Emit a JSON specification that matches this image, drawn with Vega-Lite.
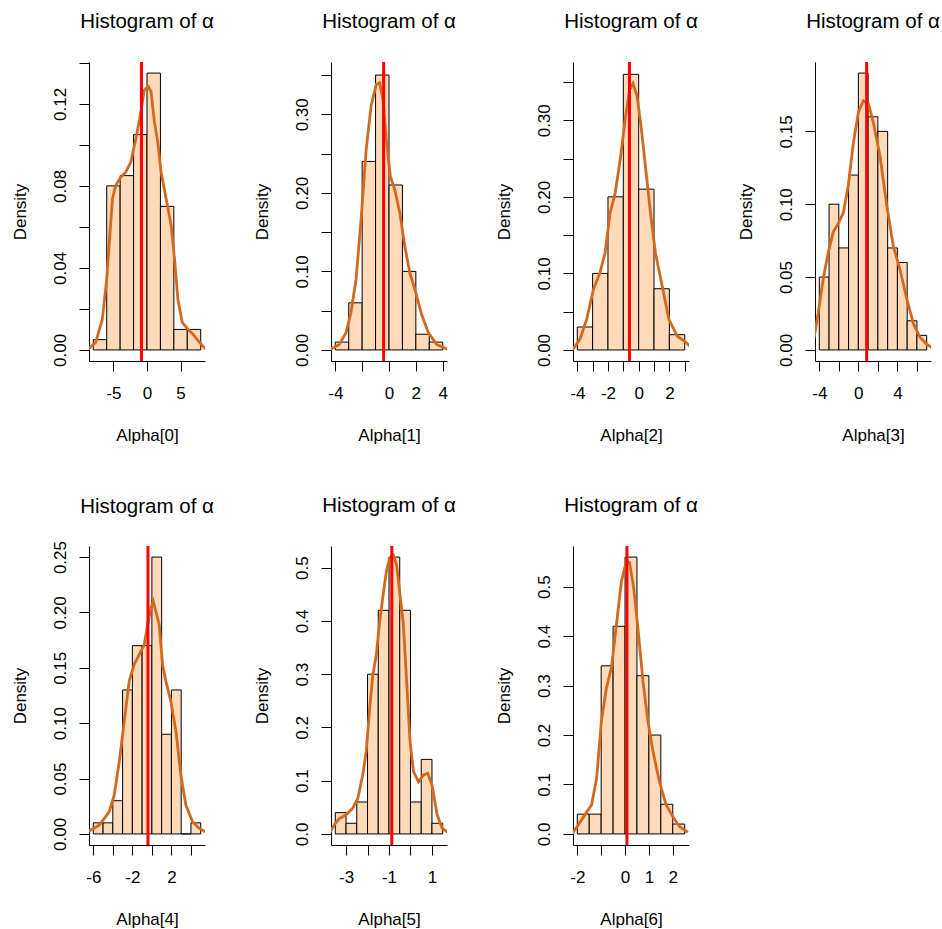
{
  "$schema": "https://vega.github.io/schema/vega-lite/v6.json",
  "background": "white",
  "padding": {"left": 11, "top": 12, "right": 0, "bottom": 0},
  "config": {
    "font": "Liberation Sans",
    "view": {"stroke": null},
    "axis": {
      "grid": false, "domainColor": "#000", "tickColor": "#000", "labelColor": "#000", "titleColor": "#000",
      "labelFont": "Liberation Sans", "titleFont": "Liberation Sans",
      "labelFontSize": 17, "titleFontSize": 17, "titleFontWeight": "normal",
      "tickSize": 10, "domainWidth": 1, "tickWidth": 1, "labelOverlap": false, "labelFlush": false, "tickCount": 50
    },
    "axisX": {"labelPadding": 14.5, "labelBaseline": "top", "titleY": 66.5, "titleBaseline": "top"},
    "axisY": {"labelAngle": 270, "labelAlign": "center", "labelBaseline": "alphabetic", "labelPadding": 13.4, "titleX": -63.2, "titleAngle": 270, "titleBaseline": "alphabetic", "titleAlign": "center"},
    "title": {"font": "Liberation Sans", "fontSize": 20.5, "fontWeight": "normal", "color": "#000", "anchor": "middle", "frame": "group", "baseline": "alphabetic", "offset": 28}
  },
  "datasets": {
    "bars": [
      {"panel": 0, "lo": -8, "hi": -6, "density": 0.005},
      {"panel": 0, "lo": -6, "hi": -4, "density": 0.08},
      {"panel": 0, "lo": -4, "hi": -2, "density": 0.085},
      {"panel": 0, "lo": -2, "hi": 0, "density": 0.105},
      {"panel": 0, "lo": 0, "hi": 2, "density": 0.135},
      {"panel": 0, "lo": 2, "hi": 4, "density": 0.07},
      {"panel": 0, "lo": 4, "hi": 6, "density": 0.01},
      {"panel": 0, "lo": 6, "hi": 8, "density": 0.01},
      {"panel": 1, "lo": -4, "hi": -3, "density": 0.01},
      {"panel": 1, "lo": -3, "hi": -2, "density": 0.06},
      {"panel": 1, "lo": -2, "hi": -1, "density": 0.24},
      {"panel": 1, "lo": -1, "hi": 0, "density": 0.35},
      {"panel": 1, "lo": 0, "hi": 1, "density": 0.21},
      {"panel": 1, "lo": 1, "hi": 2, "density": 0.10},
      {"panel": 1, "lo": 2, "hi": 3, "density": 0.02},
      {"panel": 1, "lo": 3, "hi": 4, "density": 0.01},
      {"panel": 2, "lo": -4, "hi": -3, "density": 0.03},
      {"panel": 2, "lo": -3, "hi": -2, "density": 0.10},
      {"panel": 2, "lo": -2, "hi": -1, "density": 0.20},
      {"panel": 2, "lo": -1, "hi": 0, "density": 0.36},
      {"panel": 2, "lo": 0, "hi": 1, "density": 0.21},
      {"panel": 2, "lo": 1, "hi": 2, "density": 0.08},
      {"panel": 2, "lo": 2, "hi": 3, "density": 0.02},
      {"panel": 3, "lo": -4, "hi": -3, "density": 0.05},
      {"panel": 3, "lo": -3, "hi": -2, "density": 0.10},
      {"panel": 3, "lo": -2, "hi": -1, "density": 0.07},
      {"panel": 3, "lo": -1, "hi": 0, "density": 0.12},
      {"panel": 3, "lo": 0, "hi": 1, "density": 0.19},
      {"panel": 3, "lo": 1, "hi": 2, "density": 0.16},
      {"panel": 3, "lo": 2, "hi": 3, "density": 0.15},
      {"panel": 3, "lo": 3, "hi": 4, "density": 0.07},
      {"panel": 3, "lo": 4, "hi": 5, "density": 0.06},
      {"panel": 3, "lo": 5, "hi": 6, "density": 0.02},
      {"panel": 3, "lo": 6, "hi": 7, "density": 0.01},
      {"panel": 4, "lo": -6, "hi": -5, "density": 0.01},
      {"panel": 4, "lo": -5, "hi": -4, "density": 0.01},
      {"panel": 4, "lo": -4, "hi": -3, "density": 0.03},
      {"panel": 4, "lo": -3, "hi": -2, "density": 0.13},
      {"panel": 4, "lo": -2, "hi": -1, "density": 0.17},
      {"panel": 4, "lo": -1, "hi": 0, "density": 0.17},
      {"panel": 4, "lo": 0, "hi": 1, "density": 0.25},
      {"panel": 4, "lo": 1, "hi": 2, "density": 0.09},
      {"panel": 4, "lo": 2, "hi": 3, "density": 0.13},
      {"panel": 4, "lo": 3, "hi": 4, "density": 0},
      {"panel": 4, "lo": 4, "hi": 5, "density": 0.01},
      {"panel": 5, "lo": -3.5, "hi": -3, "density": 0.04},
      {"panel": 5, "lo": -3, "hi": -2.5, "density": 0.02},
      {"panel": 5, "lo": -2.5, "hi": -2, "density": 0.06},
      {"panel": 5, "lo": -2, "hi": -1.5, "density": 0.30},
      {"panel": 5, "lo": -1.5, "hi": -1, "density": 0.42},
      {"panel": 5, "lo": -1, "hi": -0.5, "density": 0.52},
      {"panel": 5, "lo": -0.5, "hi": 0, "density": 0.42},
      {"panel": 5, "lo": 0, "hi": 0.5, "density": 0.06},
      {"panel": 5, "lo": 0.5, "hi": 1, "density": 0.14},
      {"panel": 5, "lo": 1, "hi": 1.5, "density": 0.02},
      {"panel": 6, "lo": -2, "hi": -1.5, "density": 0.04},
      {"panel": 6, "lo": -1.5, "hi": -1, "density": 0.04},
      {"panel": 6, "lo": -1, "hi": -0.5, "density": 0.34},
      {"panel": 6, "lo": -0.5, "hi": 0, "density": 0.42},
      {"panel": 6, "lo": 0, "hi": 0.5, "density": 0.56},
      {"panel": 6, "lo": 0.5, "hi": 1, "density": 0.32},
      {"panel": 6, "lo": 1, "hi": 1.5, "density": 0.20},
      {"panel": 6, "lo": 1.5, "hi": 2, "density": 0.06},
      {"panel": 6, "lo": 2, "hi": 2.5, "density": 0.02}
    ],
    "dens": [
      {"panel": 0, "x": -8.9, "y": 0}, {"panel": 0, "x": -7.65, "y": 0.0036}, {"panel": 0, "x": -6.65, "y": 0.015}, {"panel": 0, "x": -6.0, "y": 0.0346},
      {"panel": 0, "x": -5.15, "y": 0.0737}, {"panel": 0, "x": -4.65, "y": 0.0803}, {"panel": 0, "x": -3.9, "y": 0.0843}, {"panel": 0, "x": -3.15, "y": 0.0868},
      {"panel": 0, "x": -2.4, "y": 0.0917}, {"panel": 0, "x": -1.65, "y": 0.1031}, {"panel": 0, "x": -0.9, "y": 0.1162}, {"panel": 0, "x": -0.4, "y": 0.1268},
      {"panel": 0, "x": 0.2, "y": 0.1284}, {"panel": 0, "x": 0.6, "y": 0.1259}, {"panel": 0, "x": 1.1, "y": 0.1113}, {"panel": 0, "x": 1.6, "y": 0.1015},
      {"panel": 0, "x": 2.1, "y": 0.0868}, {"panel": 0, "x": 2.85, "y": 0.0737}, {"panel": 0, "x": 3.6, "y": 0.0607}, {"panel": 0, "x": 4.1, "y": 0.0444},
      {"panel": 0, "x": 4.6, "y": 0.0248}, {"panel": 0, "x": 5.25, "y": 0.0134}, {"panel": 0, "x": 6.1, "y": 0.0101}, {"panel": 0, "x": 6.85, "y": 0.0077},
      {"panel": 0, "x": 7.85, "y": 0.0036}, {"panel": 0, "x": 8.75, "y": 0.0003},
      {"panel": 1, "x": -4.45, "y": 0}, {"panel": 1, "x": -3.7, "y": 0.007}, {"panel": 1, "x": -3.2, "y": 0.022}, {"panel": 1, "x": -2.83, "y": 0.048},
      {"panel": 1, "x": -2.45, "y": 0.090}, {"panel": 1, "x": -2.08, "y": 0.166}, {"panel": 1, "x": -1.7, "y": 0.255}, {"panel": 1, "x": -1.33, "y": 0.311},
      {"panel": 1, "x": -0.95, "y": 0.338}, {"panel": 1, "x": -0.7, "y": 0.340}, {"panel": 1, "x": -0.45, "y": 0.319}, {"panel": 1, "x": -0.2, "y": 0.268},
      {"panel": 1, "x": 0.1, "y": 0.221}, {"panel": 1, "x": 0.43, "y": 0.204}, {"panel": 1, "x": 0.8, "y": 0.175}, {"panel": 1, "x": 1.18, "y": 0.132},
      {"panel": 1, "x": 1.55, "y": 0.098}, {"panel": 1, "x": 1.93, "y": 0.077}, {"panel": 1, "x": 2.43, "y": 0.045}, {"panel": 1, "x": 2.93, "y": 0.022},
      {"panel": 1, "x": 3.55, "y": 0.007}, {"panel": 1, "x": 4.35, "y": 0.001},
      {"panel": 2, "x": -4.31, "y": 0}, {"panel": 2, "x": -3.83, "y": 0.014}, {"panel": 2, "x": -3.39, "y": 0.040}, {"panel": 2, "x": -2.95, "y": 0.079},
      {"panel": 2, "x": -2.52, "y": 0.101}, {"panel": 2, "x": -2.19, "y": 0.127}, {"panel": 2, "x": -1.86, "y": 0.179}, {"panel": 2, "x": -1.53, "y": 0.205},
      {"panel": 2, "x": -1.2, "y": 0.249}, {"panel": 2, "x": -0.88, "y": 0.301}, {"panel": 2, "x": -0.59, "y": 0.340}, {"panel": 2, "x": -0.37, "y": 0.348},
      {"panel": 2, "x": -0.11, "y": 0.332}, {"panel": 2, "x": 0.15, "y": 0.293}, {"panel": 2, "x": 0.44, "y": 0.240}, {"panel": 2, "x": 0.77, "y": 0.179},
      {"panel": 2, "x": 1.09, "y": 0.127}, {"panel": 2, "x": 1.53, "y": 0.084}, {"panel": 2, "x": 1.97, "y": 0.040}, {"panel": 2, "x": 2.52, "y": 0.018},
      {"panel": 2, "x": 2.95, "y": 0.012}, {"panel": 2, "x": 3.44, "y": 0.003},
      {"panel": 3, "x": -4.8, "y": 0.003}, {"panel": 3, "x": -4.51, "y": 0.009}, {"panel": 3, "x": -4.1, "y": 0.026}, {"panel": 3, "x": -3.59, "y": 0.049},
      {"panel": 3, "x": -3.08, "y": 0.067}, {"panel": 3, "x": -2.56, "y": 0.081}, {"panel": 3, "x": -2.05, "y": 0.087}, {"panel": 3, "x": -1.54, "y": 0.094},
      {"panel": 3, "x": -1.03, "y": 0.113}, {"panel": 3, "x": -0.51, "y": 0.142}, {"panel": 3, "x": 0, "y": 0.163}, {"panel": 3, "x": 0.51, "y": 0.171},
      {"panel": 3, "x": 1.03, "y": 0.169}, {"panel": 3, "x": 1.54, "y": 0.156}, {"panel": 3, "x": 2.22, "y": 0.133}, {"panel": 3, "x": 2.91, "y": 0.099},
      {"panel": 3, "x": 3.59, "y": 0.071}, {"panel": 3, "x": 4.27, "y": 0.055}, {"panel": 3, "x": 4.96, "y": 0.035}, {"panel": 3, "x": 5.64, "y": 0.018},
      {"panel": 3, "x": 6.32, "y": 0.0085}, {"panel": 3, "x": 7.0, "y": 0.004}, {"panel": 3, "x": 7.52, "y": 0.0016},
      {"panel": 4, "x": -6.55, "y": 0.002}, {"panel": 4, "x": -5.39, "y": 0.008}, {"panel": 4, "x": -4.37, "y": 0.02}, {"panel": 4, "x": -3.86, "y": 0.035},
      {"panel": 4, "x": -3.34, "y": 0.065}, {"panel": 4, "x": -2.83, "y": 0.102}, {"panel": 4, "x": -2.32, "y": 0.138}, {"panel": 4, "x": -1.81, "y": 0.153},
      {"panel": 4, "x": -1.3, "y": 0.162}, {"panel": 4, "x": -0.78, "y": 0.171}, {"panel": 4, "x": -0.44, "y": 0.189}, {"panel": 4, "x": -0.1, "y": 0.204},
      {"panel": 4, "x": 0.14, "y": 0.21}, {"panel": 4, "x": 0.75, "y": 0.189}, {"panel": 4, "x": 1.09, "y": 0.153}, {"panel": 4, "x": 1.43, "y": 0.138},
      {"panel": 4, "x": 1.94, "y": 0.12}, {"panel": 4, "x": 2.46, "y": 0.093}, {"panel": 4, "x": 2.97, "y": 0.053}, {"panel": 4, "x": 3.48, "y": 0.026},
      {"panel": 4, "x": 4.16, "y": 0.011}, {"panel": 4, "x": 4.85, "y": 0.005}, {"panel": 4, "x": 5.46, "y": 0.002},
      {"panel": 5, "x": -3.75, "y": 0.003}, {"panel": 5, "x": -3.55, "y": 0.017}, {"panel": 5, "x": -3.31, "y": 0.029}, {"panel": 5, "x": -3.0, "y": 0.036},
      {"panel": 5, "x": -2.69, "y": 0.048}, {"panel": 5, "x": -2.45, "y": 0.067}, {"panel": 5, "x": -2.22, "y": 0.111}, {"panel": 5, "x": -2.06, "y": 0.155},
      {"panel": 5, "x": -1.9, "y": 0.236}, {"panel": 5, "x": -1.75, "y": 0.299}, {"panel": 5, "x": -1.59, "y": 0.337}, {"panel": 5, "x": -1.43, "y": 0.40},
      {"panel": 5, "x": -1.27, "y": 0.45}, {"panel": 5, "x": -1.12, "y": 0.494}, {"panel": 5, "x": -0.96, "y": 0.519}, {"panel": 5, "x": -0.80, "y": 0.524},
      {"panel": 5, "x": -0.65, "y": 0.506}, {"panel": 5, "x": -0.49, "y": 0.45}, {"panel": 5, "x": -0.33, "y": 0.393}, {"panel": 5, "x": -0.18, "y": 0.287},
      {"panel": 5, "x": -0.02, "y": 0.174}, {"panel": 5, "x": 0.14, "y": 0.117}, {"panel": 5, "x": 0.37, "y": 0.098}, {"panel": 5, "x": 0.61, "y": 0.111},
      {"panel": 5, "x": 0.80, "y": 0.114}, {"panel": 5, "x": 1.0, "y": 0.092}, {"panel": 5, "x": 1.24, "y": 0.036}, {"panel": 5, "x": 1.47, "y": 0.011},
      {"panel": 5, "x": 1.74, "y": 0.003},
      {"panel": 6, "x": -2.22, "y": 0}, {"panel": 6, "x": -1.96, "y": 0.018}, {"panel": 6, "x": -1.68, "y": 0.039}, {"panel": 6, "x": -1.40, "y": 0.059},
      {"panel": 6, "x": -1.19, "y": 0.113}, {"panel": 6, "x": -0.99, "y": 0.228}, {"panel": 6, "x": -0.78, "y": 0.295}, {"panel": 6, "x": -0.57, "y": 0.336},
      {"panel": 6, "x": -0.36, "y": 0.424}, {"panel": 6, "x": -0.15, "y": 0.511}, {"panel": 6, "x": 0.06, "y": 0.552}, {"panel": 6, "x": 0.19, "y": 0.549},
      {"panel": 6, "x": 0.36, "y": 0.498}, {"panel": 6, "x": 0.54, "y": 0.417}, {"panel": 6, "x": 0.75, "y": 0.309}, {"panel": 6, "x": 0.96, "y": 0.228},
      {"panel": 6, "x": 1.17, "y": 0.167}, {"panel": 6, "x": 1.44, "y": 0.106}, {"panel": 6, "x": 1.72, "y": 0.059}, {"panel": 6, "x": 2.0, "y": 0.035},
      {"panel": 6, "x": 2.28, "y": 0.015}, {"panel": 6, "x": 2.63, "y": 0.003}
    ],
    "est": [
      {"panel": 0, "x": -0.82}, {"panel": 1, "x": -0.4}, {"panel": 2, "x": -0.6}, {"panel": 3, "x": 0.85},
      {"panel": 4, "x": -0.4}, {"panel": 5, "x": -0.87}, {"panel": 6, "x": 0.08}
    ]
  },
  "columns": 4,
  "bounds": "flush",
  "spacing": {"row": 185, "column": 126},
  "concat": [
    {
      "width": 116, "height": 299,
      "title": {"text": "Histogram of α"},
      "layer": [
        {"data": {"name": "bars"}, "transform": [{"filter": "datum.panel == 0"}],
         "mark": {"type": "rect", "fill": "#FFDAB9", "stroke": "#000", "strokeWidth": 1},
         "encoding": {
           "x": {"field": "lo", "type": "quantitative", "title": "Alpha[0]", "scale": {"domain": [-8.64, 8.64], "nice": false, "zero": false},
                 "axis": {"values": [-5, 0, 5], "labelExpr": "'' + datum.value"}},
           "x2": {"field": "hi"},
           "y": {"field": "density", "type": "quantitative", "title": "Density", "scale": {"domain": [-0.0054, 0.1404], "nice": false, "zero": false},
                 "axis": {"values": [0, 0.02, 0.04, 0.06, 0.08, 0.1, 0.12, 0.14], "labelExpr": "indexof(['0.00','0.04','0.08','0.12'], format(datum.value, '.2f')) >= 0 ? format(datum.value, '.2f') : ''"}},
           "y2": {"datum": 0}}},
        {"data": {"name": "dens"}, "transform": [{"filter": "datum.panel == 0"}],
         "mark": {"type": "line", "color": "#D2691E", "strokeWidth": 2.8, "clip": true},
         "encoding": {"x": {"field": "x", "type": "quantitative", "title": "Alpha[0]"}, "y": {"field": "y", "type": "quantitative", "title": "Density"}, "order": {"field": "x"}}},
        {"data": {"name": "est"}, "transform": [{"filter": "datum.panel == 0"}],
         "mark": {"type": "rule", "color": "#FF0000", "strokeWidth": 3},
         "encoding": {"x": {"field": "x", "type": "quantitative", "title": "Alpha[0]"}}}
      ]
    },
    {
      "width": 116, "height": 299,
      "title": {"text": "Histogram of α"},
      "layer": [
        {"data": {"name": "bars"}, "transform": [{"filter": "datum.panel == 1"}],
         "mark": {"type": "rect", "fill": "#FFDAB9", "stroke": "#000", "strokeWidth": 1},
         "encoding": {
           "x": {"field": "lo", "type": "quantitative", "title": "Alpha[1]", "scale": {"domain": [-4.32, 4.32], "nice": false, "zero": false},
                 "axis": {"values": [-4, -2, 0, 2, 4], "labelExpr": "datum.value == -2 ? '' : '' + datum.value"}},
           "x2": {"field": "hi"},
           "y": {"field": "density", "type": "quantitative", "title": "Density", "scale": {"domain": [-0.0141, 0.3666], "nice": false, "zero": false},
                 "axis": {"values": [0, 0.05, 0.1, 0.15, 0.2, 0.25, 0.3, 0.35], "labelExpr": "indexof(['0.00','0.10','0.20','0.30'], format(datum.value, '.2f')) >= 0 ? format(datum.value, '.2f') : ''"}},
           "y2": {"datum": 0}}},
        {"data": {"name": "dens"}, "transform": [{"filter": "datum.panel == 1"}],
         "mark": {"type": "line", "color": "#D2691E", "strokeWidth": 2.8, "clip": true},
         "encoding": {"x": {"field": "x", "type": "quantitative", "title": "Alpha[1]"}, "y": {"field": "y", "type": "quantitative", "title": "Density"}, "order": {"field": "x"}}},
        {"data": {"name": "est"}, "transform": [{"filter": "datum.panel == 1"}],
         "mark": {"type": "rule", "color": "#FF0000", "strokeWidth": 3},
         "encoding": {"x": {"field": "x", "type": "quantitative", "title": "Alpha[1]"}}}
      ]
    },
    {
      "width": 116, "height": 299,
      "title": {"text": "Histogram of α"},
      "layer": [
        {"data": {"name": "bars"}, "transform": [{"filter": "datum.panel == 2"}],
         "mark": {"type": "rect", "fill": "#FFDAB9", "stroke": "#000", "strokeWidth": 1},
         "encoding": {
           "x": {"field": "lo", "type": "quantitative", "title": "Alpha[2]", "scale": {"domain": [-4.28, 3.28], "nice": false, "zero": false},
                 "axis": {"values": [-4, -3, -2, -1, 0, 1, 2, 3], "labelExpr": "datum.value % 2 == 0 ? '' + datum.value : ''"}},
           "x2": {"field": "hi"},
           "y": {"field": "density", "type": "quantitative", "title": "Density", "scale": {"domain": [-0.0144, 0.3761], "nice": false, "zero": false},
                 "axis": {"values": [0, 0.05, 0.1, 0.15, 0.2, 0.25, 0.3, 0.35], "labelExpr": "indexof(['0.00','0.10','0.20','0.30'], format(datum.value, '.2f')) >= 0 ? format(datum.value, '.2f') : ''"}},
           "y2": {"datum": 0}}},
        {"data": {"name": "dens"}, "transform": [{"filter": "datum.panel == 2"}],
         "mark": {"type": "line", "color": "#D2691E", "strokeWidth": 2.8, "clip": true},
         "encoding": {"x": {"field": "x", "type": "quantitative", "title": "Alpha[2]"}, "y": {"field": "y", "type": "quantitative", "title": "Density"}, "order": {"field": "x"}}},
        {"data": {"name": "est"}, "transform": [{"filter": "datum.panel == 2"}],
         "mark": {"type": "rule", "color": "#FF0000", "strokeWidth": 3},
         "encoding": {"x": {"field": "x", "type": "quantitative", "title": "Alpha[2]"}}}
      ]
    },
    {
      "width": 116, "height": 299,
      "title": {"text": "Histogram of α"},
      "layer": [
        {"data": {"name": "bars"}, "transform": [{"filter": "datum.panel == 3"}],
         "mark": {"type": "rect", "fill": "#FFDAB9", "stroke": "#000", "strokeWidth": 1},
         "encoding": {
           "x": {"field": "lo", "type": "quantitative", "title": "Alpha[3]", "scale": {"domain": [-4.44, 7.44], "nice": false, "zero": false},
                 "axis": {"values": [-4, -2, 0, 2, 4, 6], "labelExpr": "datum.value % 4 == 0 ? '' + datum.value : ''"}},
           "x2": {"field": "hi"},
           "y": {"field": "density", "type": "quantitative", "title": "Density", "scale": {"domain": [-0.0076, 0.1976], "nice": false, "zero": false},
                 "axis": {"values": [0, 0.05, 0.1, 0.15], "labelExpr": "format(datum.value, '.2f')"}},
           "y2": {"datum": 0}}},
        {"data": {"name": "dens"}, "transform": [{"filter": "datum.panel == 3"}],
         "mark": {"type": "line", "color": "#D2691E", "strokeWidth": 2.8, "clip": true},
         "encoding": {"x": {"field": "x", "type": "quantitative", "title": "Alpha[3]"}, "y": {"field": "y", "type": "quantitative", "title": "Density"}, "order": {"field": "x"}}},
        {"data": {"name": "est"}, "transform": [{"filter": "datum.panel == 3"}],
         "mark": {"type": "rule", "color": "#FF0000", "strokeWidth": 3},
         "encoding": {"x": {"field": "x", "type": "quantitative", "title": "Alpha[3]"}}}
      ]
    },
    {
      "width": 116, "height": 299,
      "title": {"text": "Histogram of α", "offset": 23},
      "layer": [
        {"data": {"name": "bars"}, "transform": [{"filter": "datum.panel == 4"}],
         "mark": {"type": "rect", "fill": "#FFDAB9", "stroke": "#000", "strokeWidth": 1},
         "encoding": {
           "x": {"field": "lo", "type": "quantitative", "title": "Alpha[4]", "scale": {"domain": [-6.44, 5.44], "nice": false, "zero": false},
                 "axis": {"values": [-6, -4, -2, 0, 2, 4], "labelExpr": "(datum.value + 6) % 4 == 0 ? '' + datum.value : ''"}},
           "x2": {"field": "hi"},
           "y": {"field": "density", "type": "quantitative", "title": "Density", "scale": {"domain": [-0.01, 0.26], "nice": false, "zero": false},
                 "axis": {"values": [0, 0.05, 0.1, 0.15, 0.2, 0.25], "labelExpr": "format(datum.value, '.2f')"}},
           "y2": {"datum": 0}}},
        {"data": {"name": "dens"}, "transform": [{"filter": "datum.panel == 4"}],
         "mark": {"type": "line", "color": "#D2691E", "strokeWidth": 2.8, "clip": true},
         "encoding": {"x": {"field": "x", "type": "quantitative", "title": "Alpha[4]"}, "y": {"field": "y", "type": "quantitative", "title": "Density"}, "order": {"field": "x"}}},
        {"data": {"name": "est"}, "transform": [{"filter": "datum.panel == 4"}],
         "mark": {"type": "rule", "color": "#FF0000", "strokeWidth": 3},
         "encoding": {"x": {"field": "x", "type": "quantitative", "title": "Alpha[4]"}}}
      ]
    },
    {
      "width": 116, "height": 299,
      "title": {"text": "Histogram of α"},
      "layer": [
        {"data": {"name": "bars"}, "transform": [{"filter": "datum.panel == 5"}],
         "mark": {"type": "rect", "fill": "#FFDAB9", "stroke": "#000", "strokeWidth": 1},
         "encoding": {
           "x": {"field": "lo", "type": "quantitative", "title": "Alpha[5]", "scale": {"domain": [-3.7, 1.7], "nice": false, "zero": false},
                 "axis": {"values": [-3, -2, -1, 0, 1], "labelExpr": "(datum.value + 3) % 2 == 0 ? '' + datum.value : ''"}},
           "x2": {"field": "hi"},
           "y": {"field": "density", "type": "quantitative", "title": "Density", "scale": {"domain": [-0.0208, 0.5408], "nice": false, "zero": false},
                 "axis": {"values": [0, 0.1, 0.2, 0.3, 0.4, 0.5], "labelExpr": "format(datum.value, '.1f')"}},
           "y2": {"datum": 0}}},
        {"data": {"name": "dens"}, "transform": [{"filter": "datum.panel == 5"}],
         "mark": {"type": "line", "color": "#D2691E", "strokeWidth": 2.8, "clip": true},
         "encoding": {"x": {"field": "x", "type": "quantitative", "title": "Alpha[5]"}, "y": {"field": "y", "type": "quantitative", "title": "Density"}, "order": {"field": "x"}}},
        {"data": {"name": "est"}, "transform": [{"filter": "datum.panel == 5"}],
         "mark": {"type": "rule", "color": "#FF0000", "strokeWidth": 3},
         "encoding": {"x": {"field": "x", "type": "quantitative", "title": "Alpha[5]"}}}
      ]
    },
    {
      "width": 116, "height": 299,
      "title": {"text": "Histogram of α"},
      "layer": [
        {"data": {"name": "bars"}, "transform": [{"filter": "datum.panel == 6"}],
         "mark": {"type": "rect", "fill": "#FFDAB9", "stroke": "#000", "strokeWidth": 1},
         "encoding": {
           "x": {"field": "lo", "type": "quantitative", "title": "Alpha[6]", "scale": {"domain": [-2.18, 2.68], "nice": false, "zero": false},
                 "axis": {"values": [-2, -1, 0, 1, 2], "labelExpr": "datum.value == -1 ? '' : '' + datum.value"}},
           "x2": {"field": "hi"},
           "y": {"field": "density", "type": "quantitative", "title": "Density", "scale": {"domain": [-0.0224, 0.5824], "nice": false, "zero": false},
                 "axis": {"values": [0, 0.1, 0.2, 0.3, 0.4, 0.5], "labelExpr": "format(datum.value, '.1f')"}},
           "y2": {"datum": 0}}},
        {"data": {"name": "dens"}, "transform": [{"filter": "datum.panel == 6"}],
         "mark": {"type": "line", "color": "#D2691E", "strokeWidth": 2.8, "clip": true},
         "encoding": {"x": {"field": "x", "type": "quantitative", "title": "Alpha[6]"}, "y": {"field": "y", "type": "quantitative", "title": "Density"}, "order": {"field": "x"}}},
        {"data": {"name": "est"}, "transform": [{"filter": "datum.panel == 6"}],
         "mark": {"type": "rule", "color": "#FF0000", "strokeWidth": 3},
         "encoding": {"x": {"field": "x", "type": "quantitative", "title": "Alpha[6]"}}}
      ]
    }
  ]
}
